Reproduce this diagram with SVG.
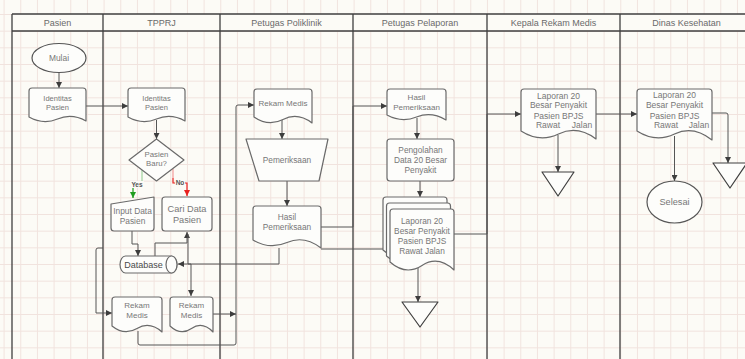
<svg xmlns="http://www.w3.org/2000/svg" width="745" height="359" viewBox="0 0 745 359">
  <defs>
    <pattern id="grid" x="3.6" y="14" width="16.667" height="16.667" patternUnits="userSpaceOnUse">
      <path d="M0,0.5 H16.667 M0.5,0 V16.667" fill="none" stroke="#f1e3de" stroke-width="1"/>
    </pattern>
    <marker id="arr" markerWidth="6" markerHeight="6" refX="6" refY="3" orient="auto" markerUnits="userSpaceOnUse">
      <path d="M0,0 L6,3 L0,6 Z" fill="#3d3d3d"/>
    </marker>
    <marker id="arrG" markerWidth="6" markerHeight="6" refX="6" refY="3" orient="auto" markerUnits="userSpaceOnUse">
      <path d="M0,0 L6,3 L0,6 Z" fill="#1f9d1f"/>
    </marker>
    <marker id="arrR" markerWidth="6" markerHeight="6" refX="6" refY="3" orient="auto" markerUnits="userSpaceOnUse">
      <path d="M0,0 L6,3 L0,6 Z" fill="#e8201e"/>
    </marker>
  </defs>
  <style>
    .lane { stroke: #3f3f3f; stroke-width: 1.3; fill: none; }
    .hdr { font-family: "Liberation Sans", Arial, sans-serif; font-size: 9px; fill: #6a6a6a; text-anchor: middle; }
    .shape { fill: #fdfdfb; stroke: #6a6a6a; stroke-width: 1.2; stroke-linejoin: round; }
    .term { fill: #fdfdfb; stroke: #555; stroke-width: 1.2; }
    .tri { fill: #fdfdfb; stroke: #3f3f3f; stroke-width: 1.2; stroke-linejoin: round; }
    .t { font-family: "Liberation Sans", Arial, sans-serif; fill: #777; text-anchor: middle; }
    .conn { fill: none; stroke: #555; stroke-width: 1; stroke-linejoin: round; }
    .lbl { font-family: "Liberation Sans", Arial, sans-serif; font-size: 6.5px; font-weight: bold; fill: #555; text-anchor: middle; }
  </style>

  <!-- canvas and grid -->
  <rect x="0" y="0" width="745" height="359" fill="#fcfbf6"/>
  <rect x="0" y="0" width="745" height="359" fill="url(#grid)"/>

  <!-- swimlanes -->
  <g id="lanes">
    <rect x="12" y="14" width="745" height="17" fill="#fcfbf6"/>
    <path class="lane" d="M12,14 H745 M12,31 H745 M12,14 V359 M103,14 V359 M220,14 V359 M353,14 V359 M487,14 V359 M620,14 V359"/>
    <text class="hdr" x="57.5" y="25.5">Pasien</text>
    <text class="hdr" x="161.5" y="25.5">TPPRJ</text>
    <text class="hdr" x="286.5" y="25.5">Petugas Poliklinik</text>
    <text class="hdr" x="420" y="25.5">Petugas Pelaporan</text>
    <text class="hdr" x="553.5" y="25.5">Kepala Rekam Medis</text>
    <text class="hdr" x="686.5" y="25.5">Dinas Kesehatan</text>
  </g>

  <!-- connectors -->
  <g id="connectors">
    <path class="conn" d="M59,72 V88" marker-end="url(#arr)"/>
    <path class="conn" d="M86,106 H128" marker-end="url(#arr)"/>
    <path class="conn" d="M156.5,120 V139" marker-end="url(#arr)"/>
    <path d="M142,170 V181" fill="none" stroke="#9fd49f" stroke-width="1.2"/>
    <path d="M142,181 V185 H133 V198" fill="none" stroke="#1f9d1f" stroke-width="1.2" marker-end="url(#arrG)"/>
    <path d="M173,169 V178" fill="none" stroke="#f29c9a" stroke-width="1.2"/>
    <path d="M173,178 V183 H187 V196" fill="none" stroke="#e8201e" stroke-width="1.2" marker-end="url(#arrR)"/>
    <path class="conn" d="M132,231 V244 H138 V256" marker-end="url(#arr)"/>
    <path class="conn" d="M155,256 V243 H187 V232" marker-end="url(#arr)"/>
    <path class="conn" d="M188,234 V264 H191 V296" marker-end="url(#arr)"/>
    <path class="conn" d="M279,248 V264 H178" marker-end="url(#arr)"/>
    <path class="conn" d="M103,248 H98 Q96,248 96,250 V313 H112" marker-end="url(#arr)"/>
    <path class="conn" d="M138,331 V343 Q138,345 140,345 H234 Q236,345 236,343 V107 Q236,105 238,105 H254" marker-end="url(#arr)"/>
    <path class="conn" d="M213,314 H236" marker-end="url(#arr)"/>
    <path class="conn" d="M282,118 V139" marker-end="url(#arr)"/>
    <path class="conn" d="M287,181 V206" marker-end="url(#arr)"/>
    <path class="conn" d="M321,227 H353 V106 H387" marker-end="url(#arr)"/>
    <path class="conn" d="M321,249 H383"/>
    <path class="conn" d="M417,118 V139" marker-end="url(#arr)"/>
    <path class="conn" d="M420,181 V197" marker-end="url(#arr)"/>
    <path class="conn" d="M418,268 V302" marker-end="url(#arr)"/>
    <path class="conn" d="M454,234 H487 V114 H521" marker-end="url(#arr)"/>
    <path class="conn" d="M558,135 V172" marker-end="url(#arr)"/>
    <path class="conn" d="M596,114 H637" marker-end="url(#arr)"/>
    <path class="conn" d="M674.5,136 V181" marker-end="url(#arr)"/>
    <path class="conn" d="M712,113 H726 Q728,113 728,115 V163" marker-end="url(#arr)"/>
    <!-- branch labels -->
    <rect x="130" y="181" width="14" height="7" fill="#fcfbf6"/>
    <text class="lbl" x="137" y="186.5">Yes</text>
    <rect x="175" y="179.5" width="10" height="7" fill="#fcfbf6"/>
    <text class="lbl" x="180" y="185">No</text>
  </g>

  <!-- Pasien lane -->
  <g id="mulai">
    <ellipse class="term" cx="59" cy="58" rx="27" ry="14.5"/>
    <text class="t" x="59" y="61" font-size="8.4">Mulai</text>
  </g>
  <g id="identitas-pasien-1">
    <path class="shape" d="M32,88 H83 Q86,88 86,91 V121 Q71.75,113 57.5,119 T29,117 V91 Q29,88 32,88 Z"/>
    <text class="t" font-size="7.5"><tspan x="57.5" y="100.5">Identitas</tspan><tspan x="57.5" y="109.5">Pasien</tspan></text>
  </g>

  <!-- TPPRJ lane -->
  <g id="identitas-pasien-2">
    <path class="shape" d="M131,88 H182 Q185,88 185,91 V121 Q170.75,113 156.5,119 T128,117 V91 Q128,88 131,88 Z"/>
    <text class="t" font-size="7.5"><tspan x="156.5" y="100.5">Identitas</tspan><tspan x="156.5" y="109.5">Pasien</tspan></text>
  </g>
  <g id="pasien-baru">
    <path class="shape" d="M156.5,139 L184,160 L156.5,181 L129,160 Z"/>
    <text class="t" font-size="7.8"><tspan x="156.5" y="156.7">Pasien</tspan><tspan x="156.5" y="165.7">Baru?</tspan></text>
  </g>
  <g id="input-data">
    <path class="shape" d="M111,204 L154,197 V228 Q154,231 151,231 H114 Q111,231 111,228 Z"/>
    <text class="t" font-size="8.4"><tspan x="132.5" y="214">Input Data</tspan><tspan x="132.5" y="223.5">Pasien</tspan></text>
  </g>
  <g id="cari-data">
    <rect class="shape" x="162" y="197" width="50" height="34" rx="3"/>
    <text class="t" font-size="9.2"><tspan x="187" y="211.5">Cari Data</tspan><tspan x="187" y="222.7">Pasien</tspan></text>
  </g>
  <g id="database">
    <path class="shape" d="M125.5,256 H171.5 A5.5,8.5 0 0 1 171.5,273 H125.5 A5.5,8.5 0 0 1 125.5,256 Z"/>
    <ellipse class="shape" cx="171.5" cy="264.5" rx="5.5" ry="8.5"/>
    <text class="t" x="143.5" y="267.7" font-size="9" fill="#4a4a4a" style="fill:#4a4a4a">Database</text>
  </g>
  <g id="rekam-medis-1">
    <path class="shape" d="M115,297 H159 Q162,297 162,300 V332 Q149.5,321 137,328.5 T112,326 V300 Q112,297 115,297 Z"/>
    <text class="t" font-size="8"><tspan x="137" y="307.8">Rekam</tspan><tspan x="137" y="317.8">Medis</tspan></text>
  </g>
  <g id="rekam-medis-2">
    <path class="shape" d="M173,297 H210 Q213,297 213,300 V332 Q202.25,321 191.5,328.5 T170,326 V300 Q170,297 173,297 Z"/>
    <text class="t" font-size="8"><tspan x="191.5" y="307.8">Rekam</tspan><tspan x="191.5" y="317.8">Medis</tspan></text>
  </g>

  <!-- Petugas Poliklinik lane -->
  <g id="rekam-medis-poli">
    <path class="shape" d="M257,89 H309 Q312,89 312,92 V123 Q297.5,112 283,119.5 T254,117 V92 Q254,89 257,89 Z"/>
    <text class="t" x="283" y="105.8" font-size="8">Rekam Medis</text>
  </g>
  <g id="pemeriksaan">
    <path class="shape" d="M246,139 H328 L319,181 H259 Z"/>
    <text class="t" x="287" y="163" font-size="8.3">Pemeriksaan</text>
  </g>
  <g id="hasil-pemeriksaan-poli">
    <path class="shape" d="M256,206 H318 Q321,206 321,209 V248 Q304,235 287,242.5 T253,240 V209 Q253,206 256,206 Z"/>
    <text class="t" font-size="8.3"><tspan x="287" y="220">Hasil</tspan><tspan x="287" y="230">Pemeriksaan</tspan></text>
  </g>

  <!-- Petugas Pelaporan lane -->
  <g id="hasil-pemeriksaan-lapor">
    <path class="shape" d="M390,89 H443 Q446,89 446,92 V120 Q431.25,111 416.5,117 T387,115 V92 Q387,89 390,89 Z"/>
    <text class="t" font-size="8"><tspan x="416.5" y="100">Hasil</tspan><tspan x="416.5" y="110">Pemeriksaan</tspan></text>
  </g>
  <g id="pengolahan">
    <rect class="shape" x="387" y="139" width="67" height="42" rx="3"/>
    <text class="t" font-size="8.3"><tspan x="420.5" y="153">Pengolahan</tspan><tspan x="420.5" y="163">Data 20 Besar</tspan><tspan x="420.5" y="173">Penyakit</tspan></text>
  </g>
  <g id="laporan-stack">
    <path class="shape" d="M386,197 H444 Q447,197 447,200 V258 Q431,243 415,253.5 T383,250 V200 Q383,197 386,197 Z"/>
    <path class="shape" d="M389.5,203 H447.5 Q450.5,203 450.5,206 V264 Q434.5,249 418.5,259.5 T386.5,256 V206 Q386.5,203 389.5,203 Z"/>
    <path class="shape" d="M393,209 H451 Q454,209 454,212 V270 Q438,255 422,265.5 T390,262 V212 Q390,209 393,209 Z"/>
    <text class="t" font-size="8.3"><tspan x="422" y="224">Laporan 20</tspan><tspan x="422" y="234">Besar Penyakit</tspan><tspan x="422" y="244">Pasien BPJS</tspan><tspan x="422" y="254">Rawat Jalan</tspan></text>
  </g>
  <g id="arsip-lapor">
    <path class="tri" d="M402,302 H438 L420,327 Z"/>
  </g>

  <!-- Kepala Rekam Medis lane -->
  <g id="laporan-kepala">
    <path class="shape" d="M524,89 H593 Q596,89 596,92 V139 Q577.25,125 558.5,134 T521,131 V92 Q521,89 524,89 Z"/>
    <text class="t" font-size="8.5"><tspan x="558.5" y="98.7">Laporan 20</tspan><tspan x="558.5" y="108.3">Besar Penyakit</tspan><tspan x="558.5" y="118.7">Pasien BPJS</tspan><tspan x="548" y="128">Rawat</tspan><tspan x="582" y="128">Jalan</tspan></text>
  </g>
  <g id="arsip-kepala">
    <path class="tri" d="M542,172 H574 L558,196 Z"/>
  </g>

  <!-- Dinas Kesehatan lane -->
  <g id="laporan-dinas">
    <path class="shape" d="M640,89 H709 Q712,89 712,92 V140 Q693.25,125 674.5,134 T637,131 V92 Q637,89 640,89 Z"/>
    <text class="t" font-size="8.5"><tspan x="674.5" y="98.2">Laporan 20</tspan><tspan x="674.5" y="108">Besar Penyakit</tspan><tspan x="674.5" y="118.7">Pasien BPJS</tspan><tspan x="666" y="128">Rawat</tspan><tspan x="699" y="128">Jalan</tspan></text>
  </g>
  <g id="selesai">
    <ellipse class="term" cx="674.5" cy="202" rx="27.5" ry="21"/>
    <text class="t" x="674.5" y="205.2" font-size="9.2">Selesai</text>
  </g>
  <g id="arsip-dinas">
    <path class="tri" d="M713,163 H747 L730,188 Z"/>
  </g>
</svg>
